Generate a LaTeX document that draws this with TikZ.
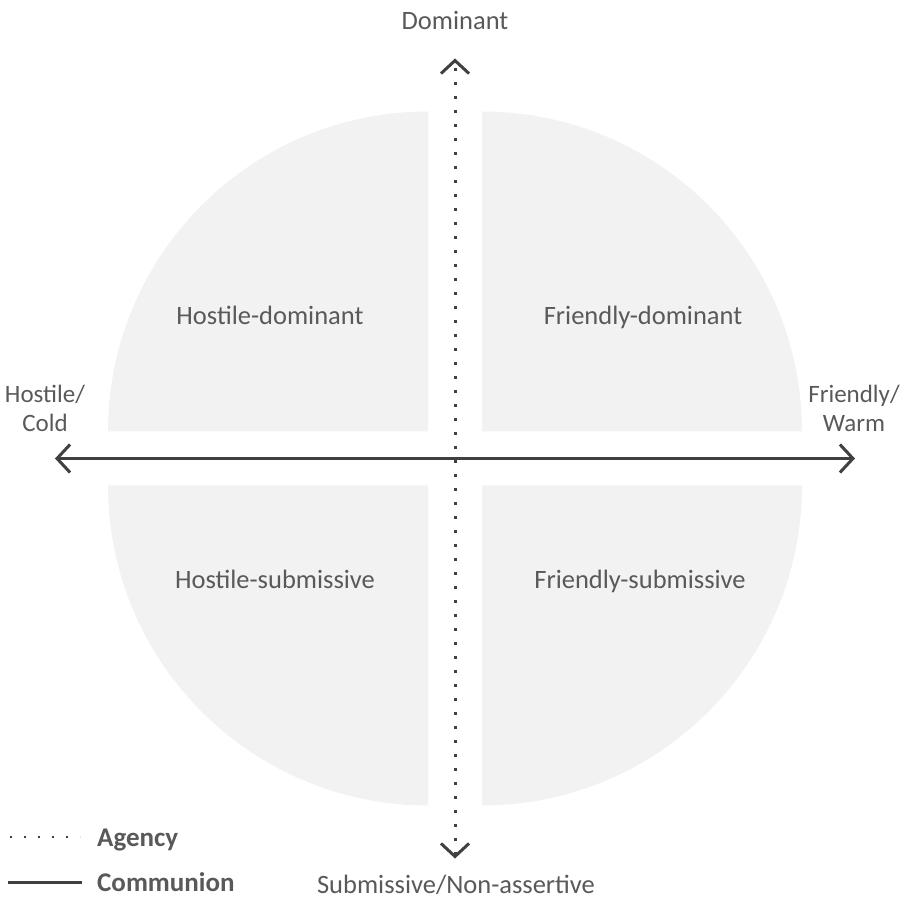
\documentclass[tikz,border=0pt]{standalone}
\usepackage{fontspec}
\setmainfont{Carlito}
\usetikzlibrary{positioning,arrows.meta}

\definecolor{quadfill}{HTML}{F2F2F2}
\definecolor{axisgray}{HTML}{404040}
\definecolor{labelgray}{HTML}{595959}

\begin{document}
\begin{tikzpicture}[x=1pt,y=1pt,
  quad/.style={fill=quadfill},
  axis/.style={draw=axisgray,line width=3pt,
    {Straight Barb[length=13pt,width=28pt]}-{Straight Barb[length=13pt,width=28pt]}},
  agency/.style={dash pattern=on 3pt off 11pt},
  lbl/.style={text=labelgray,font=\fontsize{26.5}{28}\selectfont,inner sep=0pt,align=center},
  side/.style={lbl,font=\fontsize{25}{29}\selectfont},
  legend/.style={text=labelgray,font=\fontsize{27}{30}\selectfont\bfseries,inner sep=0pt}]
\useasboundingbox (-455,-450.5) rectangle (452,458.5);

% four quarter discs, one per quadrant
\foreach \sx/\sy in {1/1,-1/1,-1/-1,1/-1}
  \fill[quad,xscale=\sx,yscale=\sy] (27,27) -- (347,27)
    arc[start angle=0,end angle=90,radius=320] -- cycle;

% axes
\coordinate (west) at (-400,0);
\coordinate (east) at (400,0);
\coordinate (south) at (0,-400);
\coordinate (north) at (0,400);
\draw[axis] (west) -- (east);
\draw[axis,agency] (south) -- (north);

% axis ends
\node[lbl,anchor=base] (dom) at (0,429) {Dominant};
\node[lbl,anchor=base] (sub) at (1,-434.5) {Submissive/Non-assertive};
\node[side] (cold) at (-410,50) {Hostile/\\Cold};
\node[side] (warm) at (399,50) {Friendly/\\Warm};

% quadrant names
\node[lbl,anchor=base] (hd) at (-185,133.5) {Hostile-dominant};
\node[lbl,anchor=base] (fd) at (188,133.5) {Friendly-dominant};
\node[lbl,anchor=base] (hs) at (-180,-129.5) {Hostile-submissive};
\node[lbl,anchor=base] (fs) at (185,-129.5) {Friendly-submissive};

% legend
\coordinate (agA) at (-445,-378.5);
\coordinate (agB) at (-375,-378.5);
\coordinate (coA) at (-447,-423.5);
\coordinate (coB) at (-373,-423.5);
\draw[axisgray,line width=2pt,dash pattern=on 2pt off 12pt] (agA) -- (agB);
\draw[axisgray,line width=3pt] (coA) -- (coB);
\node[legend,right=17pt of agB,yshift=-3pt] (agency) {Agency};
\node[legend,right=15pt of coB] (communion) {Communion};
\end{tikzpicture}
\end{document}
